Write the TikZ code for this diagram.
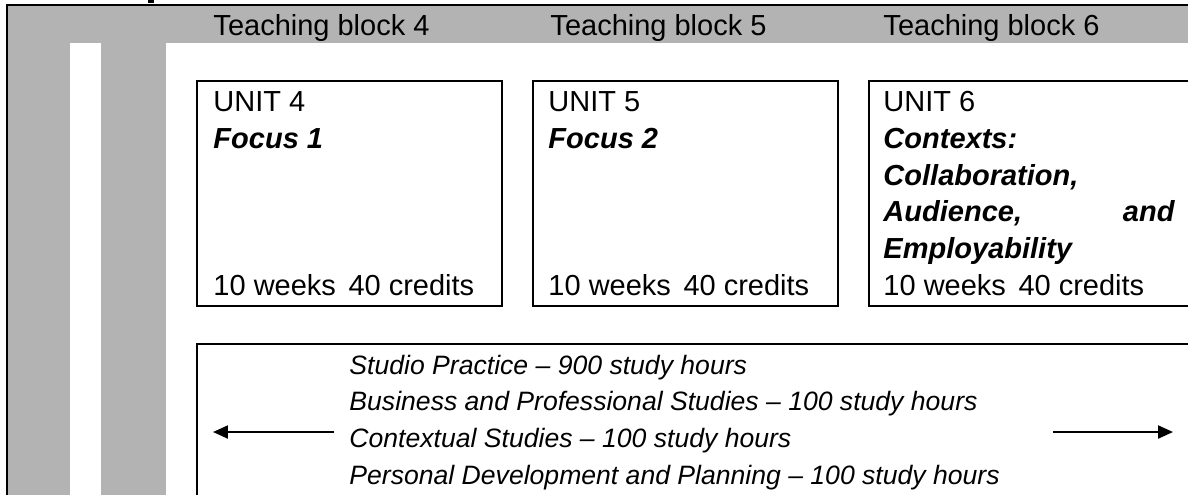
\documentclass[tikz,border=0pt]{standalone}
\usepackage{fontspec}
\setmainfont{Liberation Sans}
\usetikzlibrary{arrows.meta,fit}
\definecolor{bandgray}{RGB}{179,179,179}
\begin{document}
\begin{tikzpicture}[x=0.4138pt,y=-0.4138pt,
  frame/.style={line width=0.83pt},
  unitbox/.style={draw, line width=0.83pt, inner sep=0pt},
  hdr/.style={anchor=base west, inner sep=0pt, font=\fontsize{12}{14}\selectfont},
  utext/.style={anchor=base west, inner sep=0pt, font=\fontsize{12}{14}\selectfont},
  ufocus/.style={anchor=base west, inner sep=0pt, font=\fontsize{12}{14}\selectfont\bfseries\itshape},
  hours/.style={anchor=base west, inner sep=0pt, font=\fontsize{11}{13}\selectfont\itshape},
  arr/.style={-{Triangle[length=6.2pt,width=5.4pt]}, line width=0.83pt}]
\useasboundingbox (0,0) rectangle (1188,494);
\clip (0,0) rectangle (1188,494);
% grey band and columns
\fill[bandgray] (7,5) rectangle (1200,43);
\fill[bandgray] (7,43) rectangle (70,500);
\fill[bandgray] (101,43) rectangle (166,500);
\draw[frame] (7,500) -- (7,5) -- (1200,5);
% fragment of a letter above the frame
\fill (148,0) rectangle (154,3.3);
% headers
\node[hdr] (tb4) at (213,35) {Teaching block 4};
\node[hdr] (tb5) at (550,35) {Teaching block 5};
\node[hdr] (tb6) at (883,35) {Teaching block 6};
% unit boxes
\node[unitbox, fit={(197,81) (502,306)}] (u4) {};
\node[unitbox, fit={(533,81) (838,306)}] (u5) {};
\node[unitbox, fit={(869,81) (1210,306)}] (u6) {};
\node[unitbox, fit={(197,344) (1210,510)}] (hrs) {};
% unit 4
\node[utext] (u4a) at (213,111) {UNIT 4};
\node[ufocus] (u4b) at (213,148) {Focus 1};
\node[utext] (u4c) at (213,295) {10 weeks\hspace{5.2pt}40 credits};
% unit 5
\node[utext] (u5a) at (548,111) {UNIT 5};
\node[ufocus] (u5b) at (548,148) {Focus 2};
\node[utext] (u5c) at (548,295) {10 weeks\hspace{5.2pt}40 credits};
% unit 6
\node[utext] (u6a) at (883,111) {UNIT 6};
\node[ufocus] (u6b) at (883,148) {Contexts:};
\node[ufocus] (u6c) at (883,185) {Collaboration,};
\node[ufocus] (u6d) at (883,221.5) {Audience,};
\node[ufocus, anchor=base east] (u6e) at (1175,221.5) {and};
\node[ufocus] (u6f) at (883,258.3) {Employability};
\node[utext] (u6g) at (883,295) {10 weeks\hspace{5.2pt}40 credits};
% study hours
\node[hours] (h1) at (349,374) {Studio Practice – 900 study hours};
\node[hours] (h2) at (349,410.7) {Business and Professional Studies – 100 study hours};
\node[hours] (h3) at (349,447.3) {Contextual Studies – 100 study hours};
\node[hours] (h4) at (349,484) {Personal Development and Planning – 100 study hours};
% arrows
\coordinate (la) at (334,432);
\coordinate (lb) at (213,432);
\draw[arr] (la) -- (lb);
\coordinate (ra) at (1053,432);
\coordinate (rb) at (1173,432);
\draw[arr] (ra) -- (rb);
\end{tikzpicture}
\end{document}
